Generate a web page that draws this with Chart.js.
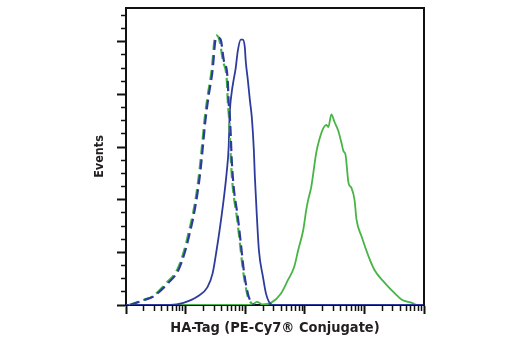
<!DOCTYPE html>
<html><head><meta charset="utf-8">
<script src="https://cdn.jsdelivr.net/npm/chart.js@4/dist/chart.umd.min.js"></script>
<style>html,body{margin:0;padding:0;background:#fff}</style>
</head><body>
<canvas id="c" width="520" height="350"></canvas>
<script>
// Blue dashed (control, blue)
const ctrlBlueX = [1.17, 2.09, 2.86, 5.12, 7.55, 9.93, 12.05, 13.55, 15.81, 17.78, 19.23, 21.58, 24.27, 28.38, 31.84, 34.43, 38.73, 43.55, 50.82, 52.84, 54.95, 57.15, 59.43, 64.12, 74.99, 84.33, 94.62, 110.7, 119.7, 139.6];
const ctrlBlueY = [0, 5, 8, 21, 33, 52, 71, 84, 106, 128, 147, 176, 198, 223, 252, 254, 252, 233, 214, 192, 181, 162, 138, 112, 84, 59, 33, 11, 5, 0];
// Green dashed (control, green)
const ctrlGreenX = [1.12, 2.0, 2.75, 4.95, 7.3, 9.6, 11.6, 13.1, 15.3, 17.2, 18.6, 20.9, 23.5, 27.5, 30.8, 33.2, 37.4, 42.2, 49.2, 51.2, 53.2, 55.4, 57.6, 62.1, 72.7, 81.8, 91.8, 107.4, 116.1, 135];
const ctrlGreenY = [0, 5, 8, 22, 34, 53, 72, 85, 107, 129, 148, 177, 199, 224, 253, 256, 250, 232, 213, 191, 180, 161, 137, 111, 83, 58, 33, 11, 5, 0];
// Blue solid
const blueX = [1, 5.53, 9.18, 15.8, 23.3, 28.4, 33.1, 37.2, 43.5, 48.9, 52.8, 54.9, 59.4, 64.1, 69.3, 75.0, 84.3, 91.1, 98.4, 102.3, 110.6, 119.6, 129.2, 139.7, 145.2, 157.0, 169.8, 198.2, 222.8, 250.5, 304.0, 100000];
const blueY = [0, 0, 2, 8, 17, 30, 52, 71, 100, 126, 150, 181, 202, 214, 225, 241, 252, 252, 245, 231, 214, 195, 178, 147, 122, 84, 52, 27, 11, 3, 0, 0];
// Green solid
const greenX = [1, 130, 157.0, 198.2, 270.5, 399.0, 524.8, 662.2, 774.0, 939.8, 1056, 1141, 1282, 1560, 1750, 2046, 2297, 2484, 2793, 3140, 3664, 4121, 4457, 4809, 5408, 6081, 6823, 7379, 8974, 11780, 14860, 21930, 32350, 42460, 62660, 76210, 100000];
const greenY = [0, 0, 3, 0.5, 2, 11, 24, 36, 52, 71, 90, 100, 112, 145, 157, 168, 171, 169, 181, 174, 165, 154, 146, 143, 116, 111, 100, 81, 65, 46, 33, 21, 11, 5, 2, 0, 0];

// Axis tick definitions (no labels shown)
const xDecades = [1, 10, 100, 1000, 10000];
const xMultipliers = [1, 2, 3, 4, 5, 6, 7, 8, 9];
const xMin = 1, xMax = 100000;
const yMin = 0, yMax = 282, yMajorStep = 50, yMinorStep = 12.5;

const xTitle = 'HA-Tag (PE-Cy7® Conjugate)';
const yTitle = 'Events';

const BLUE = '#2d3c9c';
const GREEN = '#47b545';
const FONT = "'DejaVu Sans Condensed', 'DejaVu Sans', sans-serif";

const pts = (xs, ys) => xs.map((x, i) => ({x: x, y: ys[i]}));

function isXMajor(v) {
  const l = Math.log10(v);
  return Math.abs(l - Math.round(l)) < 1e-6;
}
function isYMajor(v) {
  return Math.abs(v / yMajorStep - Math.round(v / yMajorStep)) < 1e-6;
}

const boxPlugin = {
  id: 'box',
  afterDraw(chart) {
    const a = chart.chartArea, c = chart.ctx;
    c.save();
    c.strokeStyle = '#111';
    c.lineWidth = 2;
    c.beginPath();
    c.moveTo(a.left, a.top);
    c.lineTo(a.right, a.top);
    c.lineTo(a.right, a.bottom);
    c.stroke();
    c.restore();
  }
};

new Chart(document.getElementById('c'), {
  type: 'line',
  data: {
    datasets: [
      {data: pts(ctrlBlueX, ctrlBlueY), borderColor: BLUE, borderWidth: 2.2, borderDash: [10, 5], order: 1},
      {data: pts(ctrlGreenX, ctrlGreenY), borderColor: GREEN, borderWidth: 2.2, borderDash: [10, 5], order: 2},
      {data: pts(blueX, blueY), borderColor: BLUE, borderWidth: 1.8, order: 3},
      {data: pts(greenX, greenY), borderColor: GREEN, borderWidth: 1.8, order: 4}
    ]
  },
  options: {
    responsive: false,
    animation: false,
    devicePixelRatio: 1,
    layout: {padding: {left: 92.5, right: 96, top: 8, bottom: 12.6}},
    elements: {
      point: {radius: 0},
      line: {cubicInterpolationMode: 'monotone', fill: false}
    },
    plugins: {legend: {display: false}, tooltip: {enabled: false}},
    scales: {
      x: {
        type: 'logarithmic',
        min: xMin, max: xMax,
        afterBuildTicks: (scale) => {
          const t = [];
          xDecades.forEach(d => xMultipliers.forEach(m => t.push({value: d * m})));
          t.push({value: xMax});
          scale.ticks = t;
        },
        ticks: {display: false},
        border: {display: true, color: '#111', width: 2},
        grid: {
          display: true, drawOnChartArea: false, drawTicks: true, tickLength: 9,
          tickColor: '#111',
          tickWidth: (ctx) => (ctx.tick && isXMajor(ctx.tick.value)) ? 2 : 1.5,
          tickBorderDash: (ctx) => (ctx.tick && isXMajor(ctx.tick.value)) ? [] : [5, 100]
        },
        title: {
          display: true, text: xTitle, color: '#231f20',
          font: {family: FONT, size: 14.5, weight: 'bold'},
          padding: {top: 6, bottom: 0}
        }
      },
      y: {
        type: 'linear',
        min: yMin, max: yMax,
        afterBuildTicks: (scale) => {
          const t = [];
          for (let v = yMin; v <= yMax; v += yMinorStep) t.push({value: v});
          scale.ticks = t;
        },
        ticks: {display: false},
        border: {display: true, color: '#111', width: 2},
        grid: {
          display: true, drawOnChartArea: false, drawTicks: true, tickLength: 9,
          tickColor: '#111',
          tickWidth: (ctx) => (ctx.tick && isYMajor(ctx.tick.value)) ? 2 : 1.3,
          tickBorderDash: (ctx) => (ctx.tick && isYMajor(ctx.tick.value)) ? [] : [0, 4, 4, 100]
        },
        title: {
          display: true, text: yTitle, color: '#231f20',
          font: {family: FONT, size: 12.5, weight: 'bold'},
          padding: {top: 0, bottom: 9.5}
        }
      }
    }
  },
  plugins: [boxPlugin]
});
</script>
</body></html>
